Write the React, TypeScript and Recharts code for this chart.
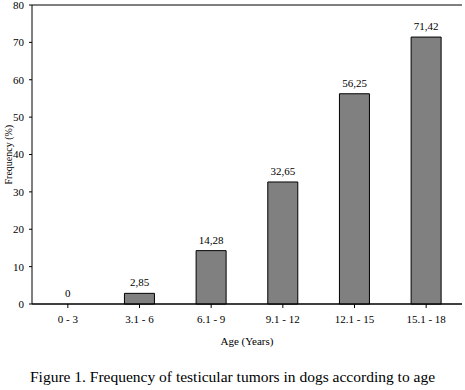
import { Bar, CartesianGrid, ComposedChart, LabelList, Line, XAxis, YAxis } from "recharts";

const ageGroups = ["0 - 3", "3.1 - 6", "6.1 - 9", "9.1 - 12", "12.1 - 15", "15.1 - 18"];
const frequency = [0, 2.85, 14.28, 32.65, 56.25, 71.42];
const yTicks = [0, 10, 20, 30, 40, 50, 60, 70, 80];

const data = ageGroups.map((name, i) => ({ name, value: frequency[i] }));

const FONT = "'Liberation Serif', 'Times New Roman', serif";

// values in the figure use a decimal comma
const commaDecimal = (v: unknown) => String(v).replace(".", ",");

const textStyle = { fill: "#000", fontSize: 11, fontFamily: FONT };

export default function App() {
  return (
    <div
      style={{
        position: "absolute",
        left: 0,
        top: 0,
        width: 465,
        height: 390,
        background: "#fff",
        fontFamily: FONT,
      }}
    >
      <style>{`.recharts-wrapper text { font-family: ${FONT} !important; }`}</style>
      <ComposedChart
        width={465}
        height={390}
        data={data}
        margin={{ top: 5, right: 3, left: 0, bottom: 0 }}
        barCategoryGap="29%"
        style={{ fontFamily: FONT }}
      >
        <CartesianGrid vertical={false} stroke="#000" strokeWidth={1} />
        <XAxis
          dataKey="name"
          height={86}
          stroke="#000"
          tickSize={4}
          tickMargin={7}
          tick={textStyle}
          interval={0}
          label={{
            value: "Age (Years)",
            position: "insideTop",
            offset: 33,
            style: textStyle,
          }}
        />
        <YAxis
          yAxisId="left"
          domain={[0, 80]}
          ticks={yTicks}
          width={32}
          stroke="#000"
          tickSize={3}
          tickMargin={5}
          tick={textStyle}
          interval={0}
          label={{
            value: "Frequency (%)",
            angle: -90,
            position: "insideLeft",
            offset: 8,
            dy: 30,
            style: { ...textStyle, fontSize: 10 },
          }}
        />
        <YAxis
          yAxisId="right"
          orientation="right"
          width={0}
          tick={false}
          tickLine={false}
          stroke="#000"
        />
        <Bar
          yAxisId="left"
          dataKey="value"
          fill="#808080"
          stroke="#000"
          strokeWidth={1}
          isAnimationActive={false}
        />
        {/* invisible line only carries the value labels (so the 0 bar gets one too) */}
        <Line
          yAxisId="left"
          dataKey="value"
          stroke="none"
          dot={false}
          activeDot={false}
          isAnimationActive={false}
        >
          <LabelList
            dataKey="value"
            position="top"
            offset={7}
            formatter={commaDecimal}
            style={textStyle}
          />
        </Line>
      </ComposedChart>
      <div
        style={{
          position: "absolute",
          left: 0,
          top: 368,
          width: 465,
          textAlign: "center",
          fontSize: 15.5,
          color: "#000",
        }}
      >
        Figure 1. Frequency of testicular tumors in dogs according to age
      </div>
    </div>
  );
}
